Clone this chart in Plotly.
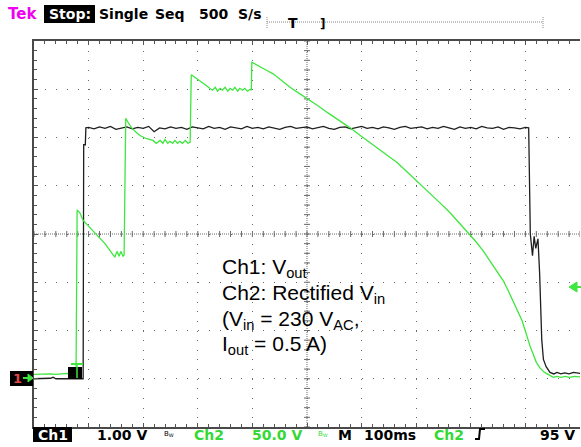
import plotly.graph_objects as go

# ---------------- data ----------------
# time in ms from left edge of screen (100 ms/div, 10 div)
ch1_t_rise = [0, 10, 20, 30, 35, 40, 50, 60, 70, 80, 90, 91, 94, 95]
ch1_v_rise = [0.0, 0.0, 0.0, 0.01, 0.03, 0.0, 0.0, 0.0, 0.0, 0.0, 0.0, 4.85, 4.85, 5.2]

ch1_t_flat = list(range(100, 910, 10))
ch1_v_flat = [5.21, 5.18, 5.22, 5.19, 5.23, 5.17, 5.20, 5.22, 5.18, 5.21,
              5.19, 5.23, 5.12, 5.20, 5.18, 5.22, 5.19, 5.21, 5.17, 5.22,
              5.20, 5.18, 5.23, 5.19, 5.21, 5.17, 5.22, 5.20, 5.18, 5.23,
              5.19, 5.21, 5.18, 5.22, 5.20, 5.17, 5.21, 5.23, 5.19, 5.20,
              5.22, 5.18, 5.20, 5.23, 5.19, 5.17, 5.21, 5.22, 5.18, 5.20,
              5.23, 5.19, 5.21, 5.18, 5.22, 5.20, 5.17, 5.21, 5.23, 5.19,
              5.20, 5.22, 5.18, 5.21, 5.19, 5.23, 5.20, 5.17, 5.22, 5.19,
              5.21, 5.18, 5.23, 5.20, 5.19, 5.22, 5.17, 5.21, 5.20, 5.18,
              5.21]

ch1_t_fall = [906, 909, 913, 916, 919, 923, 926, 930, 933, 938, 945, 952, 958, 965, 972, 980, 988, 1000]
ch1_v_fall = [5.2, 3.0, 2.55, 2.95, 2.7, 2.9, 2.2, 0.8, 0.4, 0.25, 0.13, 0.10, 0.13, 0.10, 0.12, 0.10, 0.13, 0.11]

ch2_t = [0, 10, 20, 30, 40, 50, 60, 70, 77, 79, 84, 90, 100, 110, 121, 130, 139, 148, 152, 156, 159, 163, 165,
         168, 173, 179, 186, 194, 205, 218, 224, 231, 236, 240, 245, 249, 254, 258, 263, 267, 272, 277, 282, 286,
         288, 296, 304, 313, 322, 327, 332, 336, 341, 345, 350, 355, 359, 364, 368, 373, 377, 382, 386, 391, 396, 398,
         399, 406, 414, 425, 438, 453, 469, 485, 502, 520, 537, 558, 579, 600, 621, 643, 665, 686, 707, 726, 744,
         762, 780, 795, 808, 822, 835, 847, 859, 868, 877, 886, 894, 899, 903, 909, 914, 920, 927, 934, 940, 946,
         951, 958, 965, 973, 980, 990, 1000]
ch2_v = [4.5, 4.8, 5.3, 5.0, 4.6, 5.2, 5.5, 5.0, 5.0, 175, 172, 164, 158, 152, 146, 140, 133, 126, 132, 127, 132, 127, 128,
         270, 265, 260, 256, 252, 249, 247, 244, 247, 244, 248, 244, 246, 244, 247, 244, 246, 244, 247, 244, 245,
         315, 312, 309, 305, 301, 299, 302, 298, 301, 299, 302, 298, 301, 299, 302, 298, 301, 299, 301, 298, 300, 299,
         328, 326, 323, 320, 316, 309, 302, 296, 290, 283, 276, 268, 260, 251, 242, 233, 224, 213, 202, 192, 182,
         172, 161, 151, 143, 133, 122, 112, 102, 92, 81, 70, 60, 51, 43, 33, 26, 17, 11, 7, 5, 3,
         1.5, 2.5, 1.5, 2.5, 1.5, 2.5, 2]

ch1_t = ch1_t_rise + ch1_t_flat + ch1_t_fall
ch1_v = ch1_v_rise + ch1_v_flat + ch1_v_fall

header_words = ["Single", "Seq", "500", "S/s"]
note_lines = ["Ch1: V<sub>out</sub>", "Ch2: Rectified V<sub>in</sub>",
              "(V<sub>in</sub> = 230 V<sub>AC</sub>,", "I<sub>out</sub> = 0.5 A)"]

# ---------------- layout geometry ----------------
W, H = 581, 447
ML, MR, MT, MB = 34, 1, 41, 20
PW = W - ML - MR
PH = H - MT - MB


def px(xp):
    return (xp - ML) / PW


def py(yp):
    return 1 - (yp - MT) / PH


GREEN = "#3ee63e"
TXTGREEN = "#35d835"
GRID = "#6a6a6a"
FONT = "DejaVu Sans"

fig = go.Figure()
fig.add_trace(go.Scatter(x=ch2_t, y=ch2_v, mode="lines", yaxis="y2",
                         line=dict(color=GREEN, width=1.3), hoverinfo="skip"))
fig.add_trace(go.Scatter(x=ch1_t, y=ch1_v, mode="lines",
                         line=dict(color="#1e1e1e", width=1.3), hoverinfo="skip"))

shapes = []
# centre cross (dense dotted) and its sub-division ticks
shapes.append(dict(type="line", xref="x", yref="paper", x0=500, x1=500, y0=0, y1=1,
                   line=dict(color=GRID, width=1, dash="1px,1px"), layer="below"))
shapes.append(dict(type="line", xref="paper", yref="y", x0=0, x1=1, y0=3, y1=3,
                   line=dict(color=GRID, width=1, dash="1px,1px"), layer="below"))
for k in range(41):
    yv = -1 + 0.2 * k
    shapes.append(dict(type="line", xref="x", yref="y", xsizemode="pixel", xanchor=500,
                       x0=-3, x1=3, y0=yv, y1=yv, line=dict(color=GRID, width=1), layer="below"))
for k in range(51):
    xv = 20 * k
    shapes.append(dict(type="line", xref="x", yref="y", ysizemode="pixel", yanchor=3,
                       y0=-3, y1=3, x0=xv, x1=xv, line=dict(color=GRID, width=1), layer="below"))

# record bar at top
shapes.append(dict(type="line", xref="paper", yref="paper", x0=px(267), x1=px(543), y0=py(22), y1=py(22),
                   line=dict(color="#888", width=1, dash="1px,1px")))
for xe in (267, 543):
    shapes.append(dict(type="line", xref="paper", yref="paper", x0=px(xe), x1=px(xe), y0=py(17), y1=py(28),
                       line=dict(color="#888", width=1, dash="1px,1px")))

# "Stop:" and "Ch1" boxes
shapes.append(dict(type="rect", xref="paper", yref="paper", x0=px(44), x1=px(95), y0=py(5), y1=py(23),
                   fillcolor="black", line=dict(width=0)))
shapes.append(dict(type="rect", xref="paper", yref="paper", x0=px(33), x1=px(72), y0=py(427), y1=py(442),
                   fillcolor="black", line=dict(width=0)))
# channel ground marker box at left
shapes.append(dict(type="rect", xref="paper", yref="paper", x0=px(10), x1=px(33), y0=py(371), y1=py(386),
                   fillcolor="black", line=dict(width=0)))
shapes.append(dict(type="path", xref="paper", yref="paper",
                   path=f"M{px(23)},{py(378)} L{px(30)},{py(378)}",
                   line=dict(color=GREEN, width=2)))
shapes.append(dict(type="path", xref="paper", yref="paper",
                   path=f"M{px(33)},{py(378)} L{px(28)},{py(374)} L{px(28)},{py(382)} Z",
                   fillcolor=GREEN, line=dict(color=GREEN, width=1)))
# trigger point marker
shapes.append(dict(type="rect", xref="paper", yref="paper", x0=px(68), x1=px(82), y0=py(367), y1=py(379),
                   fillcolor="black", line=dict(width=0)))
shapes.append(dict(type="line", xref="paper", yref="paper", x0=px(71), x1=px(83), y0=py(364), y1=py(364),
                   line=dict(color=GREEN, width=2)))
shapes.append(dict(type="line", xref="paper", yref="paper", x0=px(77), x1=px(77), y0=py(364), y1=py(378),
                   line=dict(color=GREEN, width=1.5)))
# trigger level arrow at right
shapes.append(dict(type="path", xref="paper", yref="paper",
                   path=f"M{px(569)},{py(287)} L{px(577)},{py(282)} L{px(577)},{py(292)} Z",
                   fillcolor=GREEN, line=dict(color=GREEN, width=1)))
shapes.append(dict(type="line", xref="paper", yref="paper", x0=px(576), x1=px(581), y0=py(287), y1=py(287),
                   line=dict(color=GREEN, width=2)))
# rising-edge slope symbol
shapes.append(dict(type="path", xref="paper", yref="paper",
                   path=f"M{px(475)},{py(439)} L{px(479)},{py(439)} L{px(480)},{py(429)} L{px(485)},{py(429)}",
                   line=dict(color="black", width=2)))

ann = []


def txt(x, y, s, color="black", size=14, bold=True, family=FONT, xanchor="center"):
    ann.append(dict(x=px(x), y=py(y), xref="paper", yref="paper", text=s, showarrow=False,
                    xanchor=xanchor, yanchor="middle",
                    font=dict(family=family, size=size, color=color,
                              weight="bold" if bold else "normal"),
                    borderpad=0))


txt(22, 14, "Tek", color="#f000f0", size=15)
txt(69.5, 14, "Stop:", color="white", size=14)
for w, cx in zip(header_words, [123, 170, 213.5, 250]):
    txt(cx, 14, w, size=14)
txt(293, 23, "T", size=14)
txt(322, 24, "]", size=12)

txt(52.5, 435, "Ch1", color="white", size=14)
txt(122, 435, "1.00 V", size=14)
txt(168.5, 434, "B<sub>W</sub>", size=7, bold=False)
txt(208.5, 435, "Ch2", color=TXTGREEN, size=14)
txt(276.5, 435, "50.0 V", color=TXTGREEN, size=14)
txt(322.5, 434, "B<sub>W</sub>", color=TXTGREEN, size=7, bold=False)
txt(345, 435, "M", size=14)
txt(389.5, 435, "100ms", size=14)
txt(449, 435, "Ch2", color=TXTGREEN, size=14)
txt(557.5, 435, "95 V", size=14)
txt(17, 378.5, "1", color="#e04848", size=13)

for line, yc in zip(note_lines, [267.5, 293.5, 319.5, 344.5]):
    txt(221, yc, line, size=21, bold=False, family="Liberation Sans", xanchor="left")

fig.update_layout(
    width=W, height=H,
    margin=dict(l=ML, r=MR, t=MT, b=MB, pad=0),
    paper_bgcolor="white", plot_bgcolor="white",
    showlegend=False,
    shapes=shapes, annotations=ann,
    xaxis=dict(range=[0, 1000], dtick=100, tick0=0, showgrid=True, gridcolor=GRID, gridwidth=1,
               griddash="1px,8.65px", zeroline=False, showticklabels=False,
               ticks="inside", ticklen=4, tickcolor="#555", tickwidth=1,
               minor=dict(dtick=20, ticks="inside", ticklen=3, tickcolor="#555", showgrid=False),
               showline=True, linecolor="#4a4a4a", linewidth=2, mirror="ticks", fixedrange=True),
    yaxis=dict(range=[-1, 7], dtick=1, tick0=0, showgrid=True, gridcolor=GRID, gridwidth=1,
               griddash="1px,9.92px", zeroline=False, showticklabels=False,
               ticks="inside", ticklen=4, tickcolor="#555", tickwidth=1,
               minor=dict(dtick=0.2, ticks="inside", ticklen=3, tickcolor="#555", showgrid=False),
               showline=True, linecolor="#4a4a4a", linewidth=2, mirror=False, fixedrange=True),
    yaxis2=dict(range=[-50, 350], overlaying="y", side="right", showgrid=False, zeroline=False,
                showticklabels=False, ticks="", showline=False, fixedrange=True),
)

fig.write_html("out.html", config={"displayModeBar": False},
               post_script="document.body.style.margin='0';document.body.style.padding='0';"
                           "document.documentElement.style.overflow='hidden';")
